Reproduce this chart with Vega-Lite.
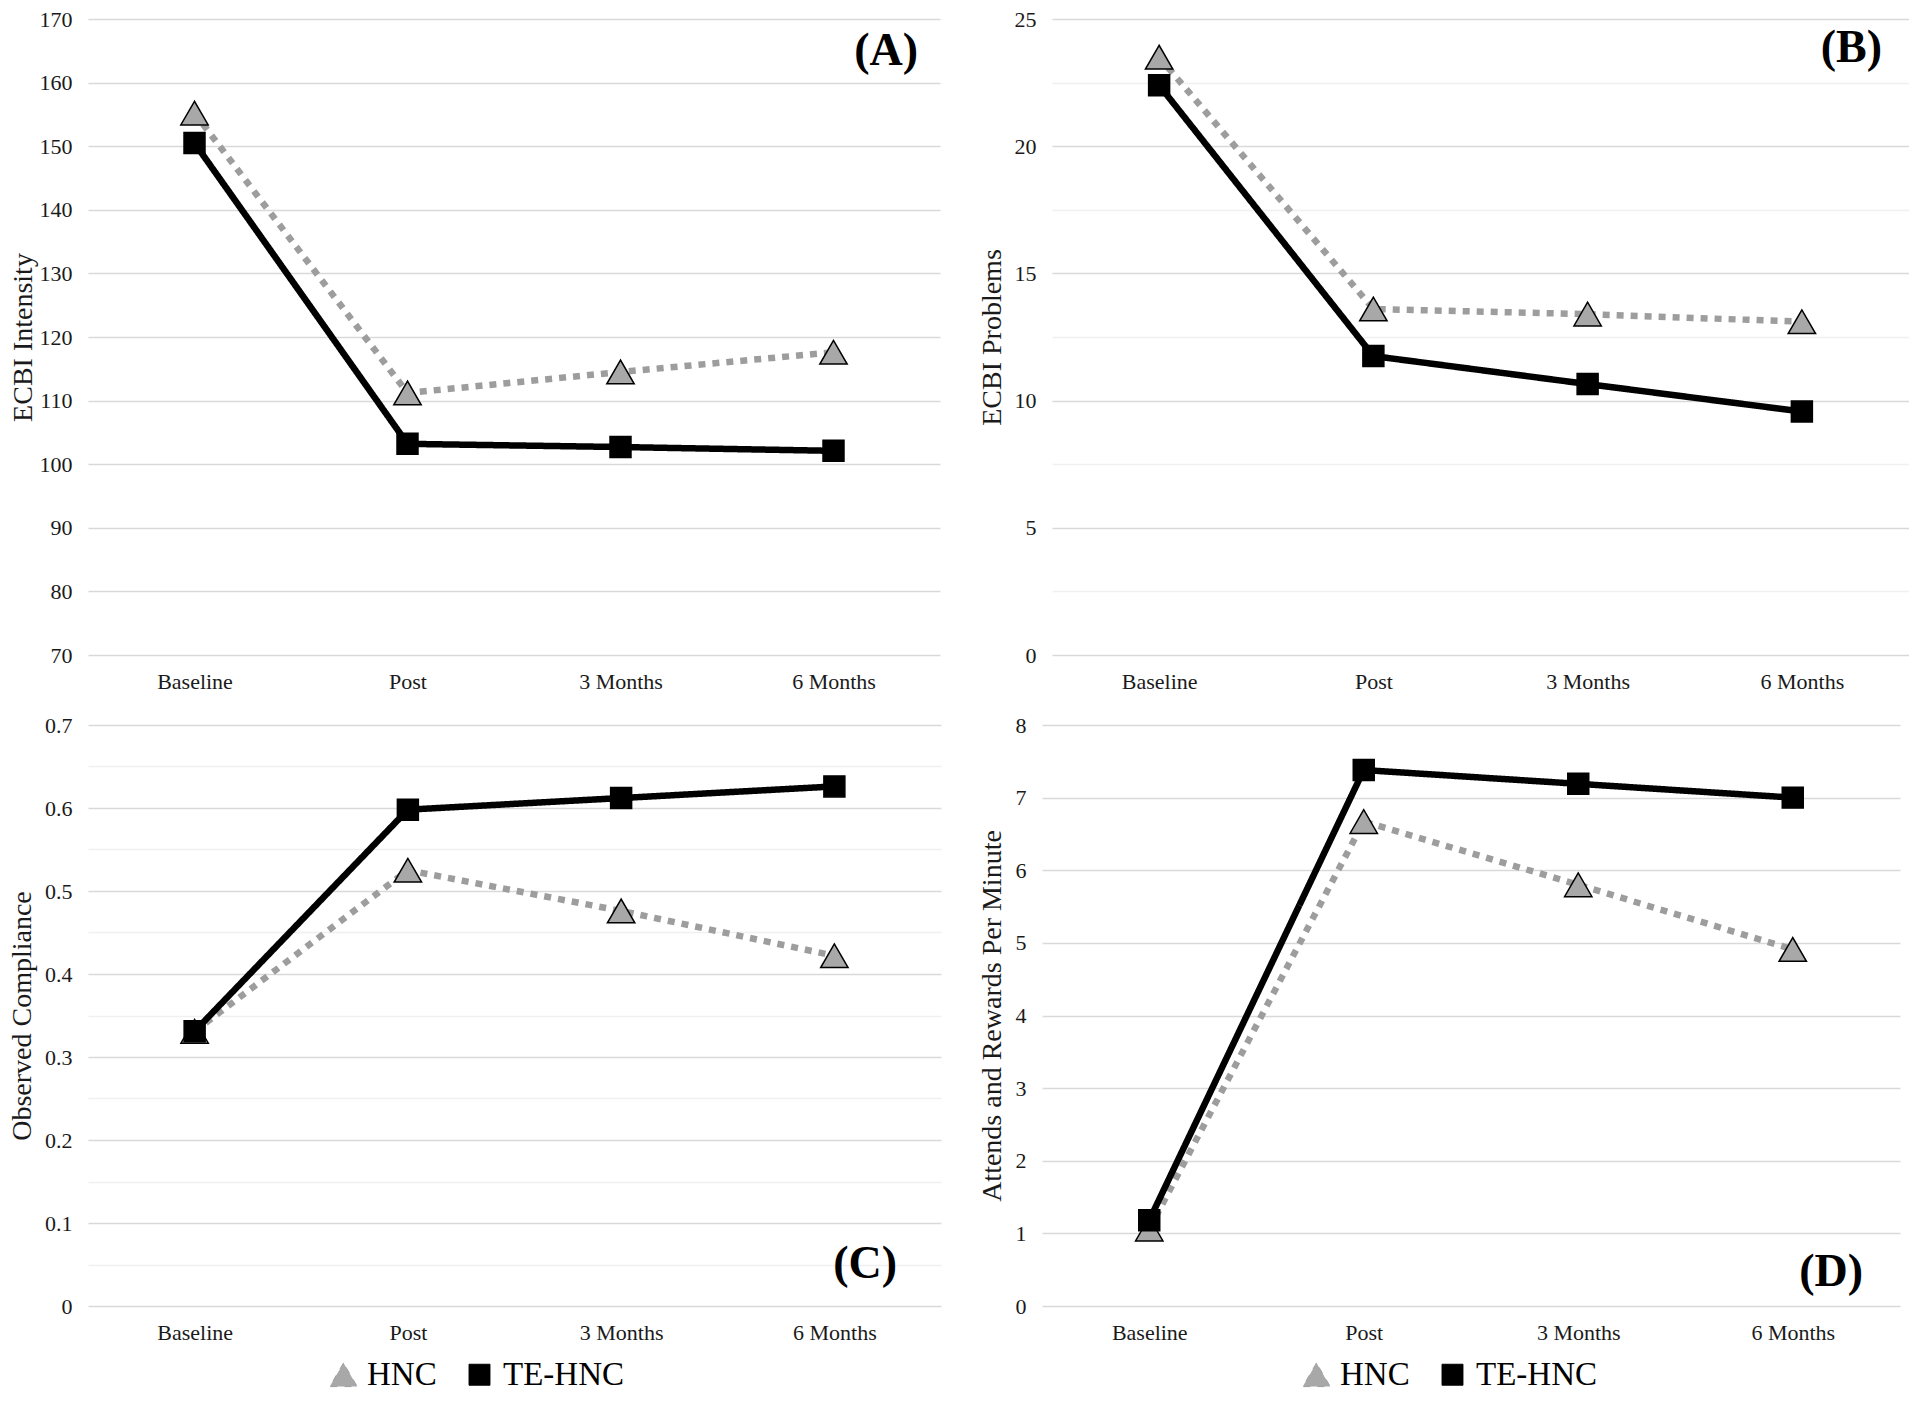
{
  "$schema": "https://vega.github.io/schema/vega-lite/v6.json",
  "background": "white",
  "padding": {"left": 8, "top": 8, "right": 0, "bottom": 0},
  "datasets": {
    "A": [
      {"time": "Baseline", "group": "HNC", "value": 155.2},
      {"time": "Post", "group": "HNC", "value": 111.2},
      {"time": "3 Months", "group": "HNC", "value": 114.5},
      {"time": "6 Months", "group": "HNC", "value": 117.6},
      {"time": "Baseline", "group": "TE-HNC", "value": 150.5},
      {"time": "Post", "group": "TE-HNC", "value": 103.2},
      {"time": "3 Months", "group": "TE-HNC", "value": 102.7},
      {"time": "6 Months", "group": "TE-HNC", "value": 102.1}
    ],
    "B": [
      {"time": "Baseline", "group": "HNC", "value": 23.5},
      {"time": "Post", "group": "HNC", "value": 13.6},
      {"time": "3 Months", "group": "HNC", "value": 13.4},
      {"time": "6 Months", "group": "HNC", "value": 13.1},
      {"time": "Baseline", "group": "TE-HNC", "value": 22.4},
      {"time": "Post", "group": "TE-HNC", "value": 11.75},
      {"time": "3 Months", "group": "TE-HNC", "value": 10.65},
      {"time": "6 Months", "group": "TE-HNC", "value": 9.57}
    ],
    "C": [
      {"time": "Baseline", "group": "HNC", "value": 0.331},
      {"time": "Post", "group": "HNC", "value": 0.525},
      {"time": "3 Months", "group": "HNC", "value": 0.476},
      {"time": "6 Months", "group": "HNC", "value": 0.422},
      {"time": "Baseline", "group": "TE-HNC", "value": 0.331},
      {"time": "Post", "group": "TE-HNC", "value": 0.598},
      {"time": "3 Months", "group": "TE-HNC", "value": 0.612},
      {"time": "6 Months", "group": "TE-HNC", "value": 0.626}
    ],
    "D": [
      {"time": "Baseline", "group": "HNC", "value": 1.06},
      {"time": "Post", "group": "HNC", "value": 6.67},
      {"time": "3 Months", "group": "HNC", "value": 5.8},
      {"time": "6 Months", "group": "HNC", "value": 4.91},
      {"time": "Baseline", "group": "TE-HNC", "value": 1.18},
      {"time": "Post", "group": "TE-HNC", "value": 7.38},
      {"time": "3 Months", "group": "TE-HNC", "value": 7.19},
      {"time": "6 Months", "group": "TE-HNC", "value": 7.0}
    ]
  },
  "spacing": 22,
  "resolve": {
    "scale": {"x": "independent", "y": "independent"},
    "legend": {"color": "independent", "strokeDash": "independent", "shape": "independent", "fill": "independent", "size": "independent"}
  },
  "vconcat": [
    {
      "bounds": "flush",
      "spacing": 112,
      "resolve": {
        "scale": {"x": "independent", "y": "independent"},
        "legend": {"color": "independent", "strokeDash": "independent", "shape": "independent", "fill": "independent", "size": "independent"}
      },
      "hconcat": [
        {
          "width": 852,
          "height": 636,
          "data": {"name": "A"},
          "title": {"text": "(A)", "anchor": "end", "frame": "group", "orient": "top", "offset": -89, "baseline": "middle", "dx": -22},
          "encoding": {
            "x": {"field": "time", "type": "ordinal", "sort": ["Baseline", "Post", "3 Months", "6 Months"], "scale": {"type": "point", "padding": 0.5}, "axis": {"title": null}},
            "y": {"field": "value", "type": "quantitative", "scale": {"domain": [70, 170], "nice": false, "zero": false}, "axis": {"title": "ECBI Intensity", "values": [70, 80, 90, 100, 110, 120, 130, 140, 150, 160, 170], "titleX": -65}}
          },
          "layer": [
            {
              "mark": {"type": "line", "strokeWidth": 6.5, "strokeCap": "butt"},
              "encoding": {
                "color": {"field": "group", "type": "nominal", "scale": {"domain": ["HNC", "TE-HNC"], "range": ["#9d9d9d", "#000000"]}, "legend": null},
                "strokeDash": {"field": "group", "type": "nominal", "scale": {"domain": ["HNC", "TE-HNC"], "range": [[7, 7], [1, 0]]}, "legend": null}
              }
            },
            {
              "mark": {"type": "point", "filled": true, "stroke": "black", "strokeWidth": 1.5, "opacity": 1},
              "encoding": {
                "shape": {"field": "group", "type": "nominal", "scale": {"domain": ["HNC", "TE-HNC"], "range": ["triangle-up", "square"]}, "legend": null},
                "fill": {"field": "group", "type": "nominal", "scale": {"domain": ["HNC", "TE-HNC"], "range": ["#a8a8a8", "#000000"]}, "legend": null},
                "size": {"field": "group", "type": "nominal", "scale": {"domain": ["HNC", "TE-HNC"], "range": [750, 440]}, "legend": null}
              }
            }
          ]
        },
        {
          "width": 857,
          "height": 636,
          "data": {"name": "B"},
          "title": {"text": "(B)", "anchor": "end", "frame": "group", "orient": "top", "offset": -86, "baseline": "middle", "dx": -27},
          "encoding": {
            "x": {"field": "time", "type": "ordinal", "sort": ["Baseline", "Post", "3 Months", "6 Months"], "scale": {"type": "point", "padding": 0.5}, "axis": {"title": null}},
            "y": {"field": "value", "type": "quantitative", "scale": {"domain": [0, 25], "nice": false}, "axis": {"title": "ECBI Problems", "values": [0, 2.5, 5, 7.5, 10, 12.5, 15, 17.5, 20, 22.5, 25], "titleX": -60, "labelExpr": "datum.value % 5 === 0 ? toString(datum.value) : ''", "gridColor": {"condition": {"test": "datum.value % 5 === 0", "value": "#d9d9d9"}, "value": "#f0f0f0"}}}
          },
          "layer": [
            {
              "mark": {"type": "line", "strokeWidth": 6.5, "strokeCap": "butt"},
              "encoding": {
                "color": {"field": "group", "type": "nominal", "scale": {"domain": ["HNC", "TE-HNC"], "range": ["#9d9d9d", "#000000"]}, "legend": null},
                "strokeDash": {"field": "group", "type": "nominal", "scale": {"domain": ["HNC", "TE-HNC"], "range": [[7, 7], [1, 0]]}, "legend": null}
              }
            },
            {
              "mark": {"type": "point", "filled": true, "stroke": "black", "strokeWidth": 1.5, "opacity": 1},
              "encoding": {
                "shape": {"field": "group", "type": "nominal", "scale": {"domain": ["HNC", "TE-HNC"], "range": ["triangle-up", "square"]}, "legend": null},
                "fill": {"field": "group", "type": "nominal", "scale": {"domain": ["HNC", "TE-HNC"], "range": ["#a8a8a8", "#000000"]}, "legend": null},
                "size": {"field": "group", "type": "nominal", "scale": {"domain": ["HNC", "TE-HNC"], "range": [750, 440]}, "legend": null}
              }
            }
          ]
        }
      ]
    },
    {
      "bounds": "flush",
      "spacing": 101,
      "resolve": {
        "scale": {"x": "independent", "y": "independent"},
        "legend": {"color": "independent", "strokeDash": "independent", "shape": "independent", "fill": "independent", "size": "independent"}
      },
      "hconcat": [
        {
          "width": 853,
          "height": 581,
          "data": {"name": "C"},
          "title": {"text": "(C)", "anchor": "end", "frame": "group", "orient": "top", "offset": -596, "baseline": "middle", "dx": -44},
          "encoding": {
            "x": {"field": "time", "type": "ordinal", "sort": ["Baseline", "Post", "3 Months", "6 Months"], "scale": {"type": "point", "padding": 0.5}, "axis": {"title": null}},
            "y": {"field": "value", "type": "quantitative", "scale": {"domain": [0, 0.7], "nice": false}, "axis": {"title": "Observed Compliance", "values": [0, 0.05, 0.1, 0.15, 0.2, 0.25, 0.3, 0.35, 0.4, 0.45, 0.5, 0.55, 0.6, 0.65, 0.7], "titleX": -66, "labelExpr": "abs(datum.value * 10 - round(datum.value * 10)) < 0.001 ? toString(round(datum.value * 10) / 10) : ''", "gridColor": {"condition": {"test": "abs(datum.value * 10 - round(datum.value * 10)) < 0.001", "value": "#d9d9d9"}, "value": "#f0f0f0"}}}
          },
          "layer": [
            {
              "mark": {"type": "line", "strokeWidth": 6.5, "strokeCap": "butt"},
              "encoding": {
                "color": {"field": "group", "type": "nominal", "scale": {"domain": ["HNC", "TE-HNC"], "range": ["#9d9d9d", "#000000"]}, "legend": {"orient": "none", "legendX": 239, "legendY": 633, "direction": "horizontal", "title": null, "encode": {"symbols": {"update": {"shape": {"signal": "datum.value === 'HNC' ? 'M-2.25,-0.37H-1.1V0.37H-2.25ZM1.45,-0.37H2.35V0.37H1.45ZM0,-1.05L0.92,1.05L-0.92,1.05Z' : 'M-2.35,-0.37H2.15V0.37H-2.35ZM-1.18,-1.18H1.18V1.18H-1.18Z'"}, "strokeWidth": {"value": 1}, "strokeDash": {"value": [1, 0]}}}}}},
                "strokeDash": {"field": "group", "type": "nominal", "scale": {"domain": ["HNC", "TE-HNC"], "range": [[7, 7], [1, 0]]}, "legend": {"orient": "none", "legendX": 239, "legendY": 633, "direction": "horizontal", "title": null, "encode": {"symbols": {"update": {"shape": {"signal": "datum.value === 'HNC' ? 'M-2.25,-0.37H-1.1V0.37H-2.25ZM1.45,-0.37H2.35V0.37H1.45ZM0,-1.05L0.92,1.05L-0.92,1.05Z' : 'M-2.35,-0.37H2.15V0.37H-2.35ZM-1.18,-1.18H1.18V1.18H-1.18Z'"}, "strokeWidth": {"value": 1}, "strokeDash": {"value": [1, 0]}}}}}}
              }
            },
            {
              "mark": {"type": "point", "filled": true, "stroke": "black", "strokeWidth": 1.5, "opacity": 1},
              "encoding": {
                "shape": {"field": "group", "type": "nominal", "scale": {"domain": ["HNC", "TE-HNC"], "range": ["triangle-up", "square"]}, "legend": {"orient": "none", "legendX": 239, "legendY": 633, "direction": "horizontal", "title": null, "encode": {"symbols": {"update": {"shape": {"signal": "datum.value === 'HNC' ? 'M-2.25,-0.37H-1.1V0.37H-2.25ZM1.45,-0.37H2.35V0.37H1.45ZM0,-1.05L0.92,1.05L-0.92,1.05Z' : 'M-2.35,-0.37H2.15V0.37H-2.35ZM-1.18,-1.18H1.18V1.18H-1.18Z'"}, "strokeWidth": {"value": 1}, "strokeDash": {"value": [1, 0]}}}}}},
                "fill": {"field": "group", "type": "nominal", "scale": {"domain": ["HNC", "TE-HNC"], "range": ["#a8a8a8", "#000000"]}, "legend": {"orient": "none", "legendX": 239, "legendY": 633, "direction": "horizontal", "title": null, "encode": {"symbols": {"update": {"shape": {"signal": "datum.value === 'HNC' ? 'M-2.25,-0.37H-1.1V0.37H-2.25ZM1.45,-0.37H2.35V0.37H1.45ZM0,-1.05L0.92,1.05L-0.92,1.05Z' : 'M-2.35,-0.37H2.15V0.37H-2.35ZM-1.18,-1.18H1.18V1.18H-1.18Z'"}, "strokeWidth": {"value": 1}, "strokeDash": {"value": [1, 0]}}}}}},
                "size": {"field": "group", "type": "nominal", "scale": {"domain": ["HNC", "TE-HNC"], "range": [750, 440]}, "legend": null}
              }
            }
          ]
        },
        {
          "width": 858,
          "height": 581,
          "data": {"name": "D"},
          "title": {"text": "(D)", "anchor": "end", "frame": "group", "orient": "top", "offset": -604, "baseline": "middle", "dx": -37},
          "encoding": {
            "x": {"field": "time", "type": "ordinal", "sort": ["Baseline", "Post", "3 Months", "6 Months"], "scale": {"type": "point", "padding": 0.5}, "axis": {"title": null}},
            "y": {"field": "value", "type": "quantitative", "scale": {"domain": [0, 8], "nice": false}, "axis": {"title": "Attends and Rewards Per Minute", "values": [0, 1, 2, 3, 4, 5, 6, 7, 8], "titleX": -50}}
          },
          "layer": [
            {
              "mark": {"type": "line", "strokeWidth": 6.5, "strokeCap": "butt"},
              "encoding": {
                "color": {"field": "group", "type": "nominal", "scale": {"domain": ["HNC", "TE-HNC"], "range": ["#9d9d9d", "#000000"]}, "legend": {"orient": "none", "legendX": 258, "legendY": 633, "direction": "horizontal", "title": null, "encode": {"symbols": {"update": {"shape": {"signal": "datum.value === 'HNC' ? 'M-2.25,-0.37H-1.1V0.37H-2.25ZM1.45,-0.37H2.35V0.37H1.45ZM0,-1.05L0.92,1.05L-0.92,1.05Z' : 'M-2.35,-0.37H2.15V0.37H-2.35ZM-1.18,-1.18H1.18V1.18H-1.18Z'"}, "strokeWidth": {"value": 1}, "strokeDash": {"value": [1, 0]}}}}}},
                "strokeDash": {"field": "group", "type": "nominal", "scale": {"domain": ["HNC", "TE-HNC"], "range": [[7, 7], [1, 0]]}, "legend": {"orient": "none", "legendX": 258, "legendY": 633, "direction": "horizontal", "title": null, "encode": {"symbols": {"update": {"shape": {"signal": "datum.value === 'HNC' ? 'M-2.25,-0.37H-1.1V0.37H-2.25ZM1.45,-0.37H2.35V0.37H1.45ZM0,-1.05L0.92,1.05L-0.92,1.05Z' : 'M-2.35,-0.37H2.15V0.37H-2.35ZM-1.18,-1.18H1.18V1.18H-1.18Z'"}, "strokeWidth": {"value": 1}, "strokeDash": {"value": [1, 0]}}}}}}
              }
            },
            {
              "mark": {"type": "point", "filled": true, "stroke": "black", "strokeWidth": 1.5, "opacity": 1},
              "encoding": {
                "shape": {"field": "group", "type": "nominal", "scale": {"domain": ["HNC", "TE-HNC"], "range": ["triangle-up", "square"]}, "legend": {"orient": "none", "legendX": 258, "legendY": 633, "direction": "horizontal", "title": null, "encode": {"symbols": {"update": {"shape": {"signal": "datum.value === 'HNC' ? 'M-2.25,-0.37H-1.1V0.37H-2.25ZM1.45,-0.37H2.35V0.37H1.45ZM0,-1.05L0.92,1.05L-0.92,1.05Z' : 'M-2.35,-0.37H2.15V0.37H-2.35ZM-1.18,-1.18H1.18V1.18H-1.18Z'"}, "strokeWidth": {"value": 1}, "strokeDash": {"value": [1, 0]}}}}}},
                "fill": {"field": "group", "type": "nominal", "scale": {"domain": ["HNC", "TE-HNC"], "range": ["#a8a8a8", "#000000"]}, "legend": {"orient": "none", "legendX": 258, "legendY": 633, "direction": "horizontal", "title": null, "encode": {"symbols": {"update": {"shape": {"signal": "datum.value === 'HNC' ? 'M-2.25,-0.37H-1.1V0.37H-2.25ZM1.45,-0.37H2.35V0.37H1.45ZM0,-1.05L0.92,1.05L-0.92,1.05Z' : 'M-2.35,-0.37H2.15V0.37H-2.35ZM-1.18,-1.18H1.18V1.18H-1.18Z'"}, "strokeWidth": {"value": 1}, "strokeDash": {"value": [1, 0]}}}}}},
                "size": {"field": "group", "type": "nominal", "scale": {"domain": ["HNC", "TE-HNC"], "range": [750, 440]}, "legend": null}
              }
            }
          ]
        }
      ]
    }
  ],
  "config": {
    "font": "Liberation Serif",
    "view": {"stroke": null},
    "title": {"font": "Liberation Serif", "fontSize": 46, "fontWeight": "bold", "color": "#000000"},
    "axis": {
      "labelFont": "Liberation Serif",
      "labelFontSize": 22,
      "labelColor": "#1a1a1a",
      "titleFont": "Liberation Serif",
      "titleFontSize": 28,
      "titleFontWeight": "normal",
      "titleColor": "#1a1a1a",
      "titleBaseline": "middle",
      "domain": false,
      "ticks": false,
      "gridColor": "#d9d9d9",
      "gridWidth": 1.5
    },
    "axisX": {"grid": false, "labelPadding": 16, "labelAngle": 0},
    "axisY": {"grid": true, "labelPadding": 16},
    "legend": {
      "labelFont": "Liberation Serif",
      "labelFontSize": 33,
      "labelColor": "#000000",
      "symbolSize": 350,
      "symbolStrokeWidth": 1,
      "columnPadding": 26,
      "labelOffset": 7,
      "padding": 0
    }
  }
}
